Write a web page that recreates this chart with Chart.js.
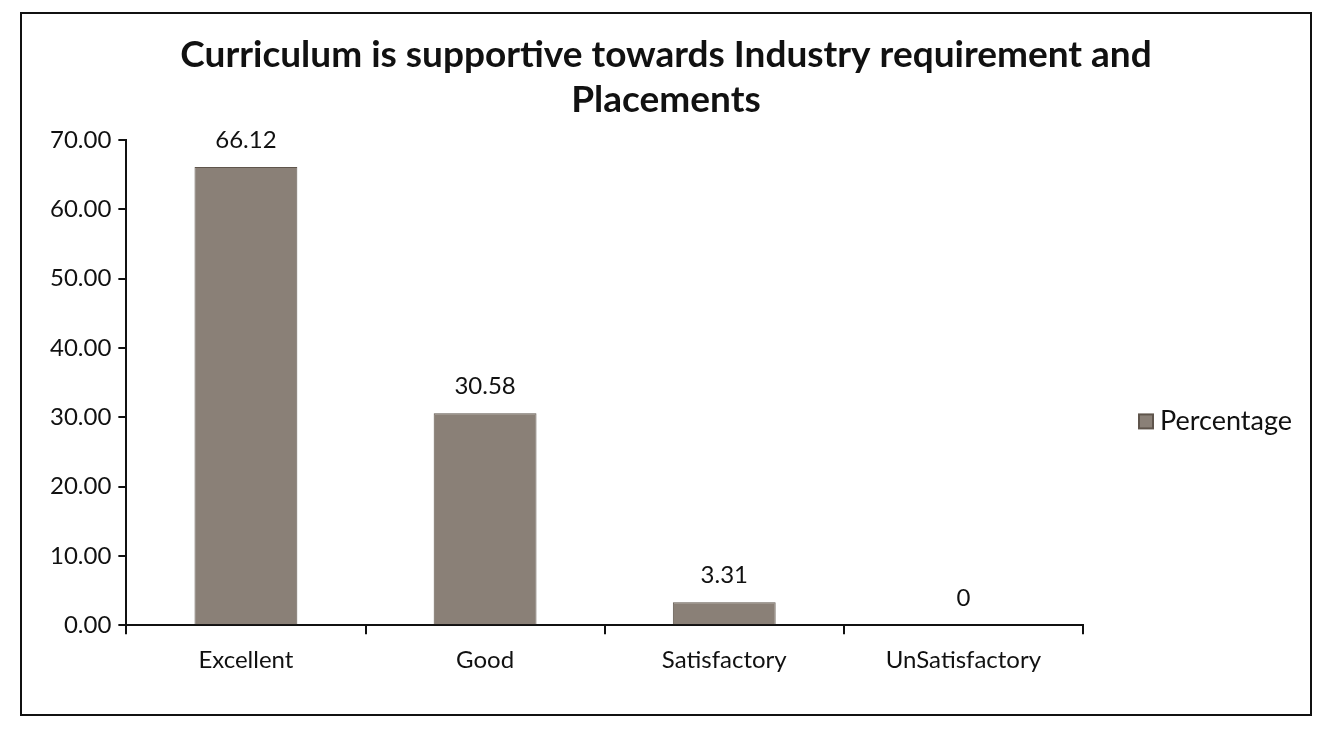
<!DOCTYPE html>
<html>
<head>
<meta charset="utf-8">
<script src="https://cdn.jsdelivr.net/npm/chart.js@4.4.0/dist/chart.umd.min.js"></script>
<style>
  html, body { margin: 0; padding: 0; background: #fff; }
  #frame {
    position: absolute; left: 20px; top: 12px;
    width: 1288px; height: 700px;
    border: 2px solid #111;
  }
  canvas { display: block; }
</style>
</head>
<body>
<div id="frame"><canvas id="chart" width="1288" height="700"></canvas></div>
<script>
"use strict";

// ---------------- DATA ----------------
const categories = ["Excellent", "Good", "Satisfactory", "UnSatisfactory"];
const percentage = [66.12, 30.58, 3.31, 0];
const valueLabels = ["66.12", "30.58", "3.31", "0"];
const seriesName = "Percentage";
const titleLines = [
  "Curriculum is supportive towards Industry requirement and",
  "Placements",
];

const FONT = "Lato, 'Open Sans', sans-serif";
const BAR_FILL = "#8a8077";
const BAR_EDGE = "#5f554c";

// ---------------- TITLE, VALUE LABELS, LEGEND ----------------
// title is centred on the whole box (not only the plot), like Excel does
const decorPlugin = {
  id: "decor",
  afterDatasetsDraw(chart) {
    const { ctx, chartArea } = chart;
    const meta = chart.getDatasetMeta(0);
    ctx.save();

    ctx.fillStyle = "#111";
    ctx.textAlign = "center";
    ctx.textBaseline = "middle";
    ctx.font = "bold 37px " + FONT;
    titleLines.forEach((line, i) => {
      ctx.fillText(line, chart.width / 2, 41 + i * 45);
    });

    ctx.font = "24px " + FONT;
    meta.data.forEach((bar, i) => {
      ctx.fillText(valueLabels[i], bar.x, bar.y - 27);
    });

    const lx = chartArea.right + 56;
    const ly = chartArea.top + chartArea.height * 0.58;
    ctx.fillStyle = BAR_FILL;
    ctx.strokeStyle = BAR_EDGE;
    ctx.lineWidth = 2;
    ctx.fillRect(lx, ly - 7, 14, 14);
    ctx.strokeRect(lx, ly - 7, 14, 14);
    ctx.fillStyle = "#111";
    ctx.textAlign = "left";
    ctx.font = "27px " + FONT;
    ctx.fillText(seriesName, lx + 21, ly);
    ctx.restore();
  },
};

// ---------------- CHART ----------------
const ctx = document.getElementById("chart").getContext("2d");
new Chart(ctx, {
  type: "bar",
  data: {
    labels: categories,
    datasets: [
      {
        label: seriesName,
        data: percentage,
        backgroundColor: BAR_FILL,
        borderColor: BAR_EDGE,
        borderWidth: 1,
        barPercentage: 0.43,
        categoryPercentage: 1,
      },
    ],
  },
  options: {
    responsive: false,
    animation: false,
    layout: { padding: { left: 21, right: 227, top: 126, bottom: 27 } },
    plugins: {
      title: { display: false },
      legend: { display: false },
      tooltip: { enabled: false },
    },
    scales: {
      x: {
        grid: {
          display: true,
          drawOnChartArea: false,
          drawTicks: true,
          tickLength: 9,
          color: "#111",
          lineWidth: 2,
        },
        border: { color: "#111", width: 2 },
        ticks: {
          color: "#111",
          font: { family: FONT, size: 24 },
          padding: 12,
        },
      },
      y: {
        min: 0,
        max: 70,
        grid: {
          display: true,
          drawOnChartArea: false,
          drawTicks: true,
          tickLength: 8,
          color: "#111",
          lineWidth: 2,
        },
        border: { color: "#111", width: 2 },
        ticks: {
          stepSize: 10,
          color: "#111",
          font: { family: FONT, size: 24 },
          padding: 7,
          callback: (v) => Number(v).toFixed(2),
        },
      },
    },
  },
  plugins: [decorPlugin],
});
</script>
</body>
</html>
